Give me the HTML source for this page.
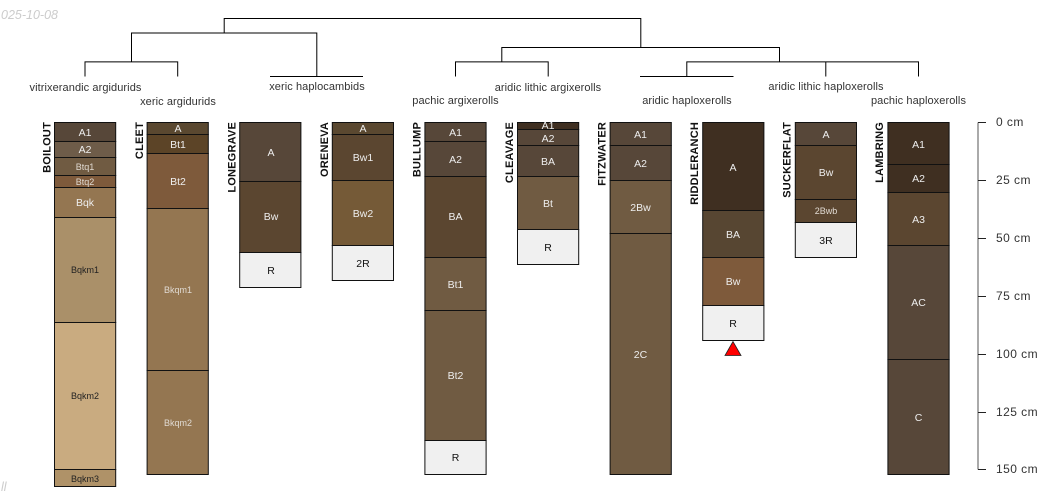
<!DOCTYPE html>
<html><head><meta charset="utf-8"><style>
html,body{margin:0;padding:0;background:#fff}
svg{display:block}
text{font-family:"Liberation Sans",sans-serif}
.t{font-size:11px;letter-spacing:.08px;fill:#333;text-anchor:middle}
.n{font-size:11px;letter-spacing:.2px;font-weight:bold;fill:#111;text-anchor:end}
.h{font-size:10.5px;fill:#eee;text-anchor:middle}
.s{font-size:9px;fill:#e0dad2;text-anchor:middle}
.k{font-size:10.5px;fill:#111;text-anchor:middle}
.d{font-size:9px;fill:#222;text-anchor:middle}
.a{font-size:12px;letter-spacing:.45px;fill:#333}
.r rect{stroke:#111;stroke-width:1}
</style></head><body>
<svg width="1050" height="500" viewBox="0 0 1050 500" xmlns="http://www.w3.org/2000/svg">
<text x="1" y="19" font-size="12.5" font-style="italic" fill="#ccc">025-10-08</text>
<text x="1" y="491" font-size="12.5" font-style="italic" fill="#ccc">ll</text>

<g fill="none" stroke="#000" stroke-width="1">
<path d="M224.200 33V18.500H640.800V47.500"/>
<path d="M131.500 62V33H316.800V76.500"/>
<path d="M85 76.500V61.900H177.700V76.500"/>
<path d="M270 76.500H363"/>
<path d="M501.800 62V47.500H779.500V62"/>
<path d="M455.500 76.500V61.900H548.200V76.500"/>
<path d="M640 76.500H733.500"/>
<path d="M686.800 76.500V61.900H918.500V76.500"/>
<path d="M825.800 76.500V62"/>
</g>

<text class="t" x="85.500" y="91">vitrixerandic argidurids</text>
<text class="t" x="178" y="105">xeric argidurids</text>
<text class="t" x="317" y="90">xeric haplocambids</text>
<text class="t" x="455.500" y="104">pachic argixerolls</text>
<text class="t" x="548" y="91">aridic lithic argixerolls</text>
<text class="t" x="687" y="104">aridic haploxerolls</text>
<text class="t" x="826" y="90">aridic lithic haploxerolls</text>
<text class="t" x="918.500" y="104">pachic haploxerolls</text>

<g class="r">
<!-- BOILOUT -->
<rect x="54.500" y="122.500" width="61.200" height="19" fill="#574739"/>
<rect x="54.500" y="141.500" width="61.200" height="16" fill="#6E5C49"/>
<rect x="54.500" y="157.500" width="61.200" height="18" fill="#705B42"/>
<rect x="54.500" y="175.500" width="61.200" height="12" fill="#7E5A3B"/>
<rect x="54.500" y="187.500" width="61.200" height="30" fill="#947651"/>
<rect x="54.500" y="217.500" width="61.200" height="105" fill="#AA9069"/>
<rect x="54.500" y="322.500" width="61.200" height="147" fill="#C9AB80"/>
<rect x="54.500" y="469.500" width="61.200" height="17" fill="#AF9268"/>
<!-- CLEET -->
<rect x="147.100" y="122.500" width="61.200" height="12" fill="#5A4830"/>
<rect x="147.100" y="134.500" width="61.200" height="19" fill="#5C4427"/>
<rect x="147.100" y="153.500" width="61.200" height="55" fill="#7E5A3B"/>
<rect x="147.100" y="208.500" width="61.200" height="162" fill="#947651"/>
<rect x="147.100" y="370.500" width="61.200" height="104" fill="#947651"/>
<!-- LONEGRAVE -->
<rect x="239.700" y="122.500" width="61.200" height="59" fill="#574739"/>
<rect x="239.700" y="181.500" width="61.200" height="71" fill="#5B4630"/>
<rect x="239.700" y="252.500" width="61.200" height="35" fill="#F0F0F0"/>
<!-- ORENEVA -->
<rect x="332.300" y="122.500" width="61.200" height="12" fill="#5A4830"/>
<rect x="332.300" y="134.500" width="61.200" height="46" fill="#5B4630"/>
<rect x="332.300" y="180.500" width="61.200" height="65" fill="#755A37"/>
<rect x="332.300" y="245.500" width="61.200" height="35" fill="#F0F0F0"/>
<!-- BULLUMP -->
<rect x="424.900" y="122.500" width="61.200" height="19" fill="#574739"/>
<rect x="424.900" y="141.500" width="61.200" height="35" fill="#574739"/>
<rect x="424.900" y="176.500" width="61.200" height="81" fill="#5B4630"/>
<rect x="424.900" y="257.500" width="61.200" height="53" fill="#705B42"/>
<rect x="424.900" y="310.500" width="61.200" height="130" fill="#705B42"/>
<rect x="424.900" y="440.500" width="61.200" height="34" fill="#F0F0F0"/>
<!-- CLEAVAGE -->
<rect x="517.500" y="122.500" width="61.200" height="7" fill="#3F2F21"/>
<rect x="517.500" y="129.500" width="61.200" height="16" fill="#574739"/>
<rect x="517.500" y="145.500" width="61.200" height="31" fill="#574739"/>
<rect x="517.500" y="176.500" width="61.200" height="53" fill="#705B42"/>
<rect x="517.500" y="229.500" width="61.200" height="35" fill="#F0F0F0"/>
<!-- FITZWATER -->
<rect x="610.100" y="122.500" width="61.200" height="23" fill="#574739"/>
<rect x="610.100" y="145.500" width="61.200" height="35" fill="#574739"/>
<rect x="610.100" y="180.500" width="61.200" height="53" fill="#705B42"/>
<rect x="610.100" y="233.500" width="61.200" height="241" fill="#705B42"/>
<!-- RIDDLERANCH -->
<rect x="702.700" y="122.500" width="61.200" height="88" fill="#3F2F21"/>
<rect x="702.700" y="210.500" width="61.200" height="47" fill="#574632"/>
<rect x="702.700" y="257.500" width="61.200" height="48" fill="#7E5A3B"/>
<rect x="702.700" y="305.500" width="61.200" height="35" fill="#F0F0F0"/>
<!-- SUCKERFLAT -->
<rect x="795.300" y="122.500" width="61.200" height="23" fill="#574739"/>
<rect x="795.300" y="145.500" width="61.200" height="54" fill="#5B4630"/>
<rect x="795.300" y="199.500" width="61.200" height="23" fill="#5B4630"/>
<rect x="795.300" y="222.500" width="61.200" height="35" fill="#F0F0F0"/>
<!-- LAMBRING -->
<rect x="887.900" y="122.500" width="61.200" height="42" fill="#3F2F21"/>
<rect x="887.900" y="164.500" width="61.200" height="28" fill="#3F2F21"/>
<rect x="887.900" y="192.500" width="61.200" height="53" fill="#5B4630"/>
<rect x="887.900" y="245.500" width="61.200" height="114" fill="#574739"/>
<rect x="887.900" y="359.500" width="61.200" height="115" fill="#574739"/>
</g>

<polygon points="733,341.500 725,355.500 741,355.500" fill="#f00" stroke="#222" stroke-width="0.800"/>

<g>
<text class="h" x="85" y="136">A1</text>
<text class="h" x="85" y="153">A2</text>
<text class="s" x="85" y="170">Btq1</text>
<text class="s" x="85" y="185">Btq2</text>
<text class="h" x="85" y="206">Bqk</text>
<text class="d" x="85" y="273">Bqkm1</text>
<text class="d" x="85" y="399">Bqkm2</text>
<text class="d" x="85" y="482">Bqkm3</text>

<text class="h" x="178" y="132">A</text>
<text class="h" x="178" y="148">Bt1</text>
<text class="h" x="178" y="185">Bt2</text>
<text class="s" x="178" y="293">Bkqm1</text>
<text class="s" x="178" y="426">Bkqm2</text>

<text class="h" x="271" y="156">A</text>
<text class="h" x="271" y="220">Bw</text>
<text class="k" x="271" y="274">R</text>

<text class="h" x="363" y="132">A</text>
<text class="h" x="363" y="161">Bw1</text>
<text class="h" x="363" y="217">Bw2</text>
<text class="k" x="363" y="267">2R</text>

<text class="h" x="455.500" y="136">A1</text>
<text class="h" x="455.500" y="163">A2</text>
<text class="h" x="455.500" y="220">BA</text>
<text class="h" x="455.500" y="288">Bt1</text>
<text class="h" x="455.500" y="379">Bt2</text>
<text class="k" x="455.500" y="461">R</text>

<text class="h" x="548" y="129">A1</text>
<text class="h" x="548" y="142">A2</text>
<text class="h" x="548" y="165">BA</text>
<text class="h" x="548" y="207">Bt</text>
<text class="k" x="548" y="251">R</text>

<text class="h" x="640.500" y="138">A1</text>
<text class="h" x="640.500" y="167">A2</text>
<text class="h" x="640.500" y="211">2Bw</text>
<text class="h" x="640.500" y="358">2C</text>

<text class="h" x="733" y="171">A</text>
<text class="h" x="733" y="238">BA</text>
<text class="h" x="733" y="285">Bw</text>
<text class="k" x="733" y="327">R</text>

<text class="h" x="826" y="138">A</text>
<text class="h" x="826" y="176">Bw</text>
<text class="s" x="826" y="214">2Bwb</text>
<text class="k" x="826" y="244">3R</text>

<text class="h" x="918.500" y="148">A1</text>
<text class="h" x="918.500" y="182">A2</text>
<text class="h" x="918.500" y="223">A3</text>
<text class="h" x="918.500" y="306">AC</text>
<text class="h" x="918.500" y="421">C</text>
</g>

<text class="n" transform="translate(50.500,122) rotate(-90)">BOILOUT</text>
<text class="n" transform="translate(143,122) rotate(-90)">CLEET</text>
<text class="n" transform="translate(235.500,122) rotate(-90)">LONEGRAVE</text>
<text class="n" transform="translate(328,122) rotate(-90)">ORENEVA</text>
<text class="n" transform="translate(420.500,122) rotate(-90)">BULLUMP</text>
<text class="n" transform="translate(513,122) rotate(-90)">CLEAVAGE</text>
<text class="n" transform="translate(605.500,122) rotate(-90)">FITZWATER</text>
<text class="n" transform="translate(698,122) rotate(-90)">RIDDLERANCH</text>
<text class="n" transform="translate(790.500,122) rotate(-90)">SUCKERFLAT</text>
<text class="n" transform="translate(883,122) rotate(-90)">LAMBRING</text>

<path d="M978 122.500V469.500" stroke="#555" stroke-width="1" fill="none"/>
<path d="M978 122.500H986M978 180.500H986M978 238.500H986M978 296.500H986M978 354.500H986M978 412.500H986M978 469.500H986" stroke="#222" stroke-width="1" fill="none"/>
<text class="a" x="996" y="126">0 cm</text>
<text class="a" x="996" y="184">25 cm</text>
<text class="a" x="996" y="242">50 cm</text>
<text class="a" x="996" y="300">75 cm</text>
<text class="a" x="996" y="358">100 cm</text>
<text class="a" x="996" y="416">125 cm</text>
<text class="a" x="996" y="473">150 cm</text>
</svg>
</body></html>
